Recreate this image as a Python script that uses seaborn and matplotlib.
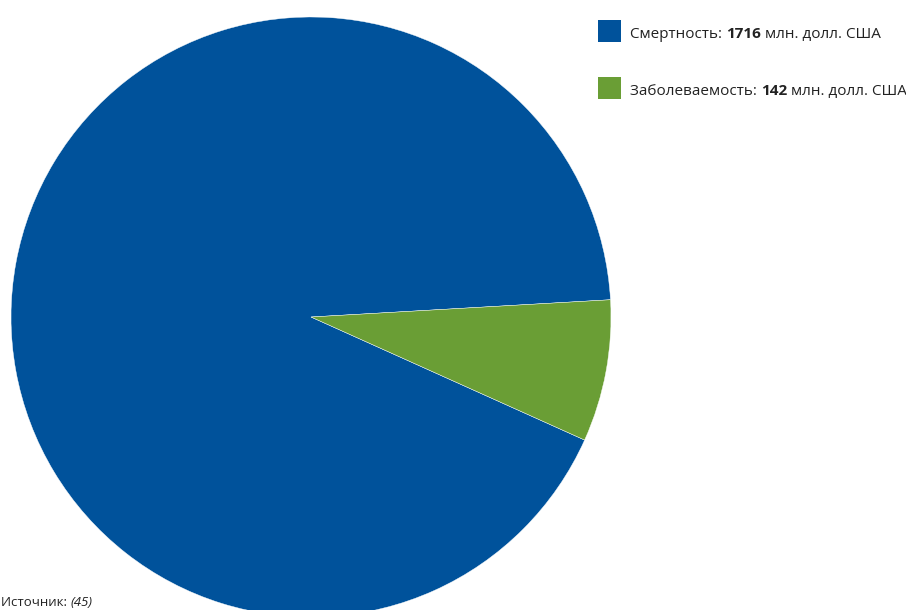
import matplotlib
matplotlib.use("Agg")
import matplotlib.pyplot as plt
import seaborn as sns
from matplotlib.patches import Rectangle

# Data
categories = ["Смертность", "Заболеваемость"]
values = [1716, 142]
units = "млн. долл. США"
source_label = "Источник: "
source_ref = "(45)"

colors = ["#00529B", "#6A9E35"]

sns.set_style("white")
plt.rcParams["font.family"] = ["Open Sans", "DejaVu Sans"]

W, H = 906, 610
fig = plt.figure(figsize=(W / 100, H / 100), dpi=100)

# Pie axes: centre (311, 317) px, radius 300 px
cx, cy, r = 311, 317, 300
ax = fig.add_axes([(cx - r) / W, (H - cy - r) / H, 2 * r / W, 2 * r / H])
ax.pie(values, colors=colors, startangle=3.3, counterclock=True,
       wedgeprops=dict(edgecolor="white", linewidth=0.3))
ax.set_xlim(-1, 1)
ax.set_ylim(-1, 1)
ax.set_axis_off()

# Overlay axes in pixel coordinates for legend and source
ov = fig.add_axes([0, 0, 1, 1])
ov.set_xlim(0, W)
ov.set_ylim(H, 0)
ov.set_axis_off()
renderer = fig.canvas.get_renderer()


def run_text(x, y, parts, fs):
    # parts: list of (string, kwargs); drawn one after another on one baseline
    for s, kw in parts:
        t = ov.text(x, y, s, fontsize=fs, va="baseline", ha="left", color="#222222", **kw)
        x += t.get_window_extent(renderer).width


fs = 11
for i, (cat, val) in enumerate(zip(categories, values)):
    y = 38 + i * 57
    ov.add_patch(Rectangle((598, y - 18), 23, 22, color=colors[i], lw=0))
    run_text(630, y, [(f"{cat}: ", {}),
                      (f"{val}", {"fontweight": "bold"}),
                      (f" {units}", {})], fs)

run_text(1, 606, [(source_label, {}), (source_ref, {"style": "italic"})], 9.5)

fig.savefig("out.png", dpi=100)
